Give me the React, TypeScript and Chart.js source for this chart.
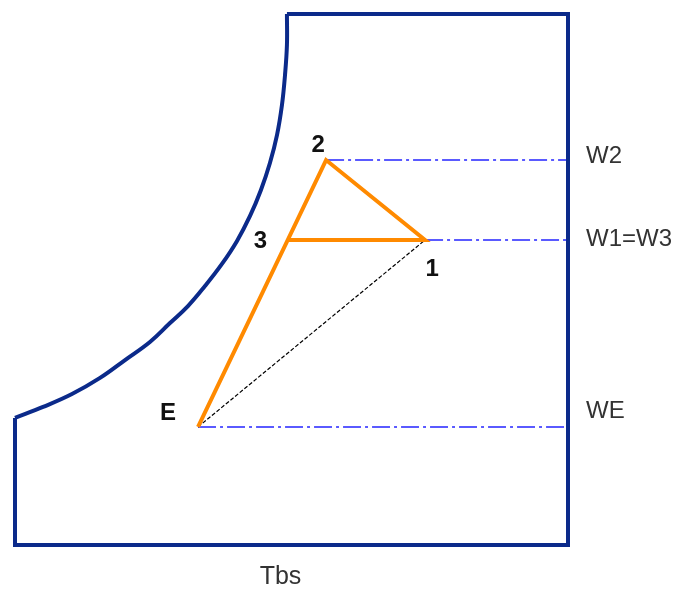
import React, { useEffect, useRef } from "react";
import { Chart, registerables } from "chart.js";

Chart.register(...registerables);

// Axis ranges (dry-bulb temperature, humidity ratio)
const TBS_MAX = 40;
const W_MAX = 30;

// State points [Tbs, W]
const pointE = { x: 13.24, y: 6.67 };
const point2 = { x: 22.5, y: 21.75 };
const point1 = { x: 29.66, y: 17.23 };
const point3 = { x: 19.71, y: 17.23 };

// Saturation curve (top-left boundary of the chart)
const satTbs = [19.67, 19.67, 19.53, 19.31, 18.95, 18.44, 17.79, 17.0, 16.06, 14.97, 13.74, 12.51, 11.21, 9.76, 7.96, 6.15, 4.12, 2.03, 0];
const satW = [30, 28.25, 26.55, 24.86, 23.16, 21.58, 20.06, 18.59, 17.18, 15.88, 14.63, 13.5, 12.54, 11.47, 10.45, 9.44, 8.53, 7.8, 7.18];

// Rest of the chart boundary
const frameTbs = [0, 0, TBS_MAX, TBS_MAX, 19.67];
const frameW = [7.18, 0, 0, W_MAX, W_MAX];

// Humidity-ratio labels on the right
const wLabels = ["W2", "W1=W3", "WE"];
const wValues = [point2.y, point1.y, pointE.y];
const wStart = [point2.x, point1.x, pointE.x];

const NAVY = "#0b2a8a";
const ORANGE = "#ff8a00";
const BLUE = "#2525ff";

const zip = (xs: number[], ys: number[]) => xs.map((x, i) => ({ x, y: ys[i] }));

const labelPlugin = {
  id: "labels",
  afterDatasetsDraw(chart: any) {
    const { ctx, scales, chartArea } = chart;
    const sx = scales.x, sy = scales.y;
    ctx.save();
    ctx.textAlign = "center";
    ctx.textBaseline = "middle";
    ctx.fillStyle = "#111";
    ctx.font = "bold 24px 'Liberation Sans', Arial, sans-serif";
    const pts: [string, { x: number; y: number }, number, number][] = [
      ["2", point2, -8, -15],
      ["3", point3, -27, 1],
      ["1", point1, 7, 29],
      ["E", pointE, -30, -14],
    ];
    for (const [t, p, dx, dy] of pts) {
      ctx.fillText(t, sx.getPixelForValue(p.x) + dx, sy.getPixelForValue(p.y) + dy);
    }
    ctx.font = "24px 'Liberation Sans', Arial, sans-serif";
    ctx.fillStyle = "#333";
    ctx.textAlign = "left";
    const dys = [-4, -1, -16];
    wLabels.forEach((t, i) => {
      ctx.fillText(t, chartArea.right + 18, sy.getPixelForValue(wValues[i]) + dys[i]);
    });
    ctx.textAlign = "center";
    ctx.font = "25px 'Liberation Sans', Arial, sans-serif";
    ctx.fillText("Tbs", (chartArea.left + chartArea.right) / 2 - 11, chartArea.bottom + 32);
    ctx.restore();
  },
};

export default function App() {
  const ref = useRef<HTMLCanvasElement>(null);
  useEffect(() => {
    if (!ref.current) return;
    const base = { pointRadius: 0, tension: 0, clip: false as any, showLine: true, fill: false };
    const datasets: any[] = [
      { ...base, label: "process", data: [pointE, point2, point1, point3], borderColor: ORANGE, borderWidth: 4, order: 1, borderJoinStyle: "miter" },
      { ...base, label: "frame", data: zip(frameTbs, frameW), borderColor: NAVY, borderWidth: 4, order: 2 },
      { ...base, label: "saturation", data: zip(satTbs, satW), borderColor: NAVY, borderWidth: 4, tension: 0.4, order: 2 },
      { ...base, label: "E-1", data: [pointE, point1], borderColor: "#000", borderWidth: 1.2, borderDash: [4, 2], order: 3 },
      ...wLabels.map((l, i) => ({
        ...base,
        label: l,
        data: [{ x: wStart[i], y: wValues[i] }, { x: TBS_MAX, y: wValues[i] }],
        borderColor: BLUE,
        borderWidth: 1.5,
        borderDash: [18, 4, 3, 4],
        order: 4,
      })),
    ];
    const chart = new Chart(ref.current, {
      type: "scatter",
      data: { datasets },
      options: {
        animation: false,
        responsive: false,
        layout: { padding: { left: 15, top: 14, right: 108, bottom: 45 } },
        plugins: { legend: { display: false }, tooltip: { enabled: false } },
        scales: {
          x: { type: "linear", min: 0, max: TBS_MAX, display: false },
          y: { type: "linear", min: 0, max: W_MAX, display: false },
        },
      },
      plugins: [labelPlugin],
    });
    return () => chart.destroy();
  }, []);
  return (
    <div style={{ position: "absolute", left: 0, top: 0, width: 676, height: 590, background: "#fff" }}>
      <canvas ref={ref} width={676} height={590} style={{ display: "block" }} />
    </div>
  );
}
